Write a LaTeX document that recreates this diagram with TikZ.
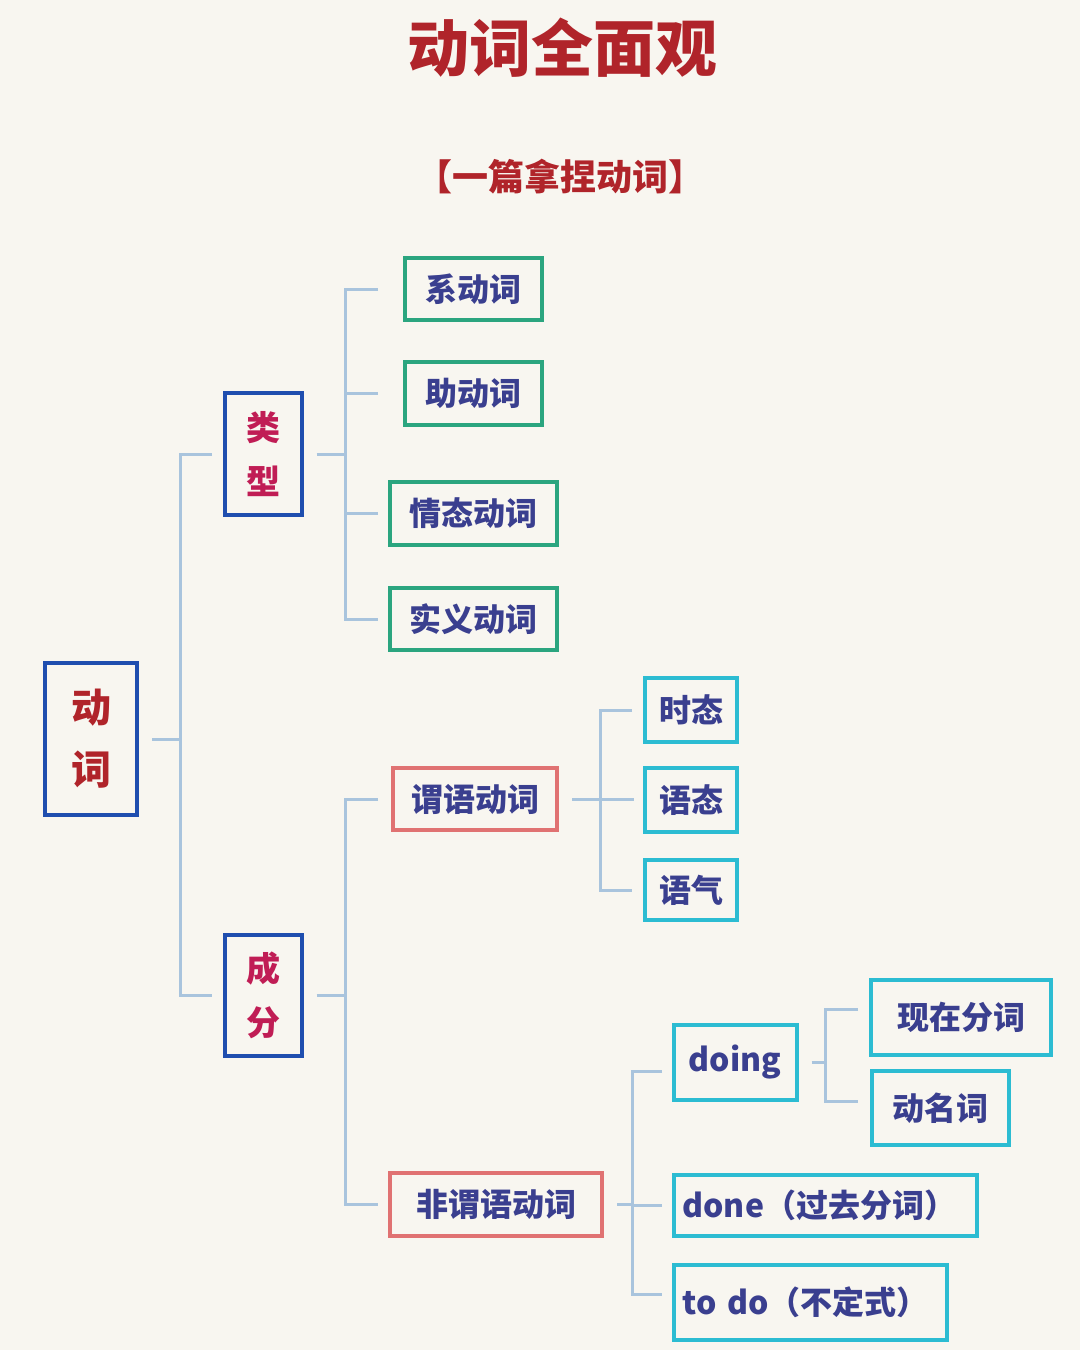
\documentclass[tikz,border=0pt]{standalone}
\usepackage{fontspec}
\newfontfamily\cjk{Noto Sans CJK SC}
\definecolor{bgcream}{HTML}{F8F6F0}
\definecolor{titlered}{HTML}{B0242A}
\definecolor{rootblue}{HTML}{1F4EAF}
\definecolor{boxgreen}{HTML}{2BA57F}
\definecolor{boxsalmon}{HTML}{E07272}
\definecolor{boxcyan}{HTML}{2CBCD2}
\definecolor{inkblue}{HTML}{3A3F8F}
\definecolor{linkblue}{HTML}{A9C4DD}
\tikzset{
  box/.style={draw,line width=4pt,inner sep=0pt,font=\cjk\bfseries\fontsize{32}{36}\selectfont,text=inkblue},
  rootbox/.style={box,draw=rootblue,text=titlered,font=\cjk\bfseries\fontsize{40}{62}\selectfont,align=center},
  greenbox/.style={box,draw=boxgreen},
  redbox/.style={box,draw=boxsalmon},
  cyanbox/.style={box,draw=boxcyan},
  link/.style={draw=linkblue,line width=3pt}
}
\begin{document}
\begin{tikzpicture}[x=1pt,y=-1pt]
\fill[bgcream] (0,0) rectangle (1080,1350);
\useasboundingbox (0,0) rectangle (1080,1350);
\node[text=titlered,font=\cjk\bfseries\fontsize{62}{70}\selectfont] (title) at (562,48) {动词全面观};
\node[text=titlered,font=\cjk\bfseries\fontsize{36}{40}\selectfont] (sub) at (560,177) {【一篇拿捏动词】};
% root and first level
\node[rootbox,minimum width=92,minimum height=152] (dongci) at (91,739) {动\\词};
\node[rootbox,text=titlered!80!magenta,font=\cjk\bfseries\fontsize{34}{54}\selectfont,minimum width=77,minimum height=122] (leixing) at (263,454) {类\\型};
\node[rootbox,text=titlered!80!magenta,font=\cjk\bfseries\fontsize{34}{54}\selectfont,minimum width=77,minimum height=121] (chengfen) at (263,995) {成\\分};
% verb types
\node[greenbox,minimum width=137,minimum height=62] (xi) at (473,289) {系动词};
\node[greenbox,minimum width=137,minimum height=63] (zhu) at (473,393) {助动词};
\node[greenbox,minimum width=167,minimum height=63] (qing) at (473,513) {情态动词};
\node[greenbox,minimum width=167,minimum height=62] (shi) at (473,619) {实义动词};
% predicate / non-predicate
\node[redbox,minimum width=164,minimum height=62] (weiyu) at (475,799) {谓语动词};
\node[redbox,minimum width=212,minimum height=63] (feiwei) at (496,1204) {非谓语动词};
\node[cyanbox,minimum width=92,minimum height=64] (shitai) at (691,710) {时态};
\node[cyanbox,minimum width=92,minimum height=64] (yutai) at (691,800) {语态};
\node[cyanbox,minimum width=92,minimum height=60] (yuqi) at (691,890) {语气};
\node[cyanbox,minimum width=123,minimum height=75] (doing) at (735,1062) {doing};
\node[cyanbox,minimum width=180,minimum height=75] (xianzai) at (961,1017) {现在分词};
\node[cyanbox,minimum width=137,minimum height=74] (dongming) at (940,1108) {动名词};
\node[cyanbox,minimum width=303,minimum height=61,text width=285] (done) at (825,1205) {done（过去分词）};
\node[cyanbox,minimum width=273,minimum height=75,text width=255] (todo) at (810,1302) {to do（不定式）};
% connectors
\coordinate (t1) at (212,0);
\coordinate (t2) at (378,0);
\coordinate (t3) at (632,0);
\coordinate (t4) at (662,0);
\coordinate (t5) at (858,0);
\draw[link] ([xshift=13]dongci.east) -- ++(30,0);
\draw[link] (leixing.west -| t1) -- ++(-32,0) |- (chengfen.west -| t1);
\draw[link] ([xshift=13]leixing.east) -- ++(30,0);
\draw[link] (xi.west -| t2) -- ++(-33,0) |- (shi.west -| t2);
\draw[link] (zhu.west -| t2) -- ++(-33,0);
\draw[link] (qing.west -| t2) -- ++(-33,0);
\draw[link] ([xshift=13]chengfen.east) -- ++(30,0);
\draw[link] (weiyu.west -| t2) -- ++(-33,0) |- (feiwei.west -| t2);
\draw[link] ([xshift=13]weiyu.east) -- ++(62,0);
\draw[link] (shitai.west -| t3) -- ++(-32,0) |- (yuqi.west -| t3);
\draw[link] ([xshift=13]feiwei.east) -- ++(17,0);
\draw[link] ([yshift=-9]doing.west -| t4) -- ++(-30,0) |- ([yshift=8]todo.west -| t4);
\draw[link] (done.west -| t4) -- ++(-30,0);
\draw[link] ([xshift=13]doing.east) -- ++(15,0);
\draw[link] ([yshift=8]xianzai.west -| t5) -- ++(-33,0) |- ([yshift=7]dongming.west -| t5);
\end{tikzpicture}
\end{document}
